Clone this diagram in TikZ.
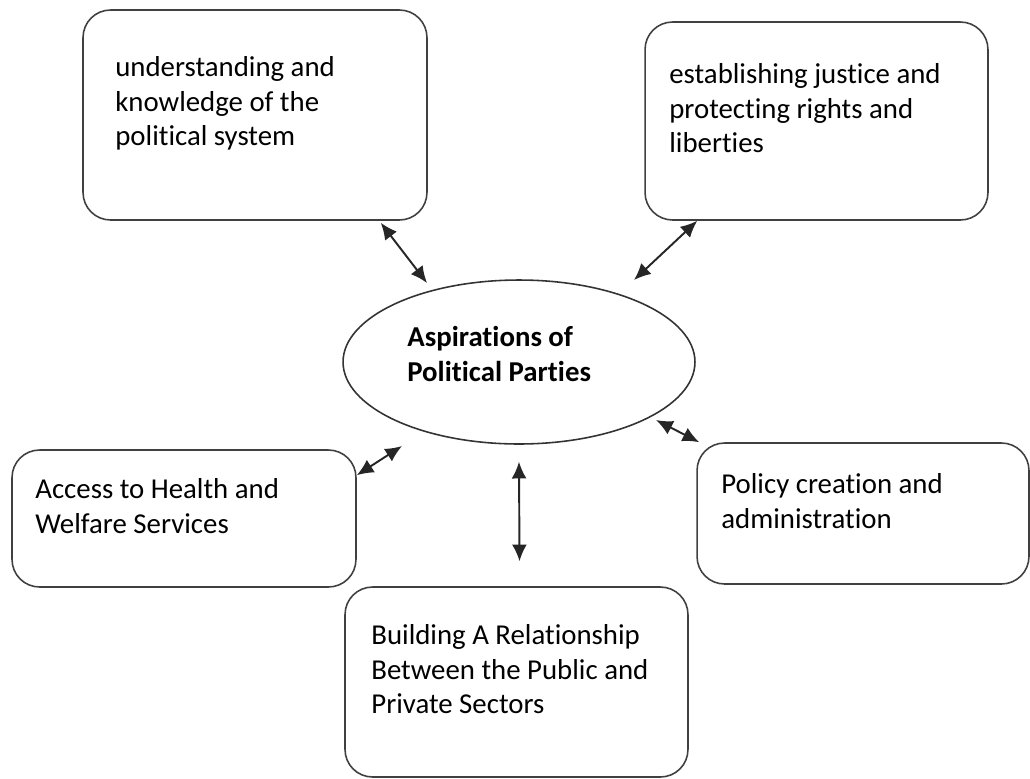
\documentclass[tikz,border=0pt]{standalone}
\usepackage{fontspec}
\setmainfont{Carlito}[Ligatures=NoCommon]
\usetikzlibrary{calc,shapes.geometric,arrows.meta}

\begin{document}
\begin{tikzpicture}[x=0.02cm, y=-0.02cm, node distance = 2em]
    \tikzset{>={Latex[length=9.5pt,width=8.5pt]}}
    \tikzset{box/.style = {draw = black!75, line width = 0.9pt, rounded corners = 0.55cm, inner sep = 0pt},
             txt/.style = {anchor = north west, inner sep = 0pt, align = left, font = \fontsize{16.4}{19.8}\selectfont},
             link/.style = {<->, draw = black!85, line width = 1.1pt}}

    \useasboundingbox (0,0) rectangle (1030,778);

    % boxes round the centre
    \node[box, minimum width = 6.88cm, minimum height = 4.2cm]  (understand) at (255,115)   {};
    \node[box, minimum width = 6.86cm, minimum height = 3.96cm] (justice)    at (816.5,121) {};
    \node[box, minimum width = 6.88cm, minimum height = 2.74cm] (health)     at (184,518.5) {};
    \node[box, minimum width = 6.64cm, minimum height = 2.82cm] (policy)     at (863,513.5) {};
    \node[box, minimum width = 6.86cm, minimum height = 3.8cm]  (relation)   at (516.5,682) {};

    % the centre
    \node[ellipse, draw = black!80, line width = 0.9pt, inner sep = 0pt, minimum width = 7.04cm, minimum height = 3.28cm] (asp) at (519,362) {};

    % texts
    \node[txt] (understandtxt) at (115,56)  {understanding and\\knowledge of the\\political system};
    \node[txt] (justicetxt)    at (669,63)  {establishing justice and\\protecting rights and\\liberties};
    \node[txt, font = \fontsize{16.4}{19.8}\selectfont\bfseries] (asptxt) at (407,326) {Aspirations of\\Political Parties};
    \node[txt] (healthtxt)     at (35,478)  {Access to Health and\\Welfare Services};
    \node[txt] (policytxt)     at (721,473) {Policy creation and\\administration};
    \node[txt] (relationtxt)   at (371,624) {Building A Relationship\\Between the Public and\\Private Sectors};

    % connectors
    \draw[link] ($(understand.south east)+(-47,2)$) -- ($(asp.center)+(-92,-79)$);
    \draw[link] ($(justice.south west)+(53,0)$) -- ($(asp.center)+(115,-82)$);
    \draw[link] ($(health.north east)+(0,26)$) -- ($(asp.center)+(-117,84)$);
    \draw[link] ($(asp.center)+(137,58)$) -- ($(policy.north west)+(3,0)$);
    \draw[link] ($(asp.south)+(0,17)$) -- ($(relation.north)+(3,-25)$);
\end{tikzpicture}
\end{document}
